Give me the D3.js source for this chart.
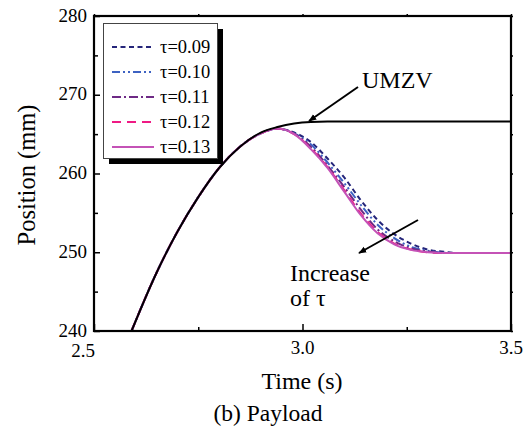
<!DOCTYPE html>
<head>
  <title>Payload position</title>
  <meta charset="utf-8">
  <script type="text/javascript" src="https://cdn.jsdelivr.net/npm/d3@7"></script>
  <style>
    body { margin: 0; background: #fff; }
    text { font-family: "Liberation Serif", "Times New Roman", serif; fill: #000; }
  </style>
</head>
<body>
  <script>
    // time points (s)
    var times = [2.59, 2.65, 2.70, 2.75, 2.80, 2.85, 2.90, 2.94, 2.98, 3.02, 3.06,
                 3.10, 3.14, 3.18, 3.22, 3.26, 3.30, 3.34, 3.38, 3.42, 3.46, 3.50];

    // position (mm) for each case
    var umzv  = [240.0, 247.4, 252.6, 257.0, 260.7, 263.4, 265.2, 265.9, 266.35, 266.55, 266.6,
                 266.6, 266.6, 266.6, 266.6, 266.6, 266.6, 266.6, 266.6, 266.6, 266.6, 266.6];
    var tau09 = [240.0, 247.4, 252.6, 257.0, 260.7, 263.4, 265.1, 265.7, 265.2, 264.0, 261.9,
                 259.5, 256.6, 254.1, 252.3, 251.1, 250.35, 250.05, 249.9, 249.9, 249.9, 249.9];
    var tau10 = [240.0, 247.4, 252.6, 257.0, 260.7, 263.4, 265.1, 265.7, 265.1, 263.7, 261.4,
                 258.8, 256.0, 253.5, 251.8, 250.7, 250.2, 249.95, 249.9, 249.9, 249.9, 249.9];
    var tau11 = [240.0, 247.4, 252.6, 257.0, 260.7, 263.4, 265.1, 265.7, 265.05, 263.4, 261.0,
                 258.3, 255.4, 252.9, 251.4, 250.5, 250.1, 249.9, 249.9, 249.9, 249.9, 249.9];
    var tau12 = [240.0, 247.4, 252.6, 257.0, 260.7, 263.4, 265.1, 265.7, 265.0, 263.2, 260.8,
                 257.9, 254.9, 252.6, 251.1, 250.35, 250.0, 249.9, 249.9, 249.9, 249.9, 249.9];
    var tau13 = [240.0, 247.4, 252.6, 257.0, 260.7, 263.4, 265.1, 265.7, 265.0, 263.1, 260.7,
                 257.7, 254.7, 252.4, 251.0, 250.3, 250.0, 249.9, 249.9, 249.9, 249.9, 249.9];

    var legendLabels = ["\u03c4=0.09", "\u03c4=0.10", "\u03c4=0.11", "\u03c4=0.12", "\u03c4=0.13"];
    var xTicks = [2.5, 3.0, 3.5];
    var xMinor = [2.75, 3.25];
    var yTicks = [240, 250, 260, 270, 280];
    var yMinor = [245, 255, 265, 275];

    var colors = ["#25257a", "#3d62c2", "#6e2a85", "#ef1a84", "#c452b6"];
    var dashes = ["5,3.5", "8,3,2,3,2,3", "9,3,2,3", "9,6", null];

    var width = 532, height = 428;
    var svg = d3.select("body").append("svg")
      .attr("width", width)
      .attr("height", height)
      .style("font-family", "'Liberation Serif', 'Times New Roman', serif");

    var x = d3.scaleLinear().domain([2.5, 3.5]).range([94, 511]);
    var y = d3.scaleLinear().domain([240, 280]).range([331, 16]);

    var defs = svg.append("defs");
    defs.append("clipPath").attr("id", "clip")
      .append("rect")
      .attr("x", x(2.5)).attr("y", y(280))
      .attr("width", x(3.5) - x(2.5)).attr("height", y(240) - y(280));

    defs.append("marker")
      .attr("id", "arrow")
      .attr("viewBox", "0 0 10 10")
      .attr("refX", 9).attr("refY", 5)
      .attr("markerWidth", 8).attr("markerHeight", 8)
      .attr("markerUnits", "userSpaceOnUse")
      .attr("orient", "auto")
      .append("path")
      .attr("d", "M0,1 L10,5 L0,9 Z")
      .attr("fill", "#000");

    // curves
    var line = d3.line()
      .x(function(d) { return x(d[0]); })
      .y(function(d) { return y(d[1]); })
      .curve(d3.curveMonotoneX);

    var series = [tau09, tau10, tau11, tau12, tau13];
    var plot = svg.append("g").attr("clip-path", "url(#clip)");

    for (var i = 0; i < series.length; i++) {
      var pts = times.map(function(t, j) { return [t, series[i][j]]; });
      plot.append("path")
        .attr("d", line(pts))
        .attr("fill", "none")
        .attr("stroke", colors[i])
        .attr("stroke-width", 2)
        .attr("stroke-dasharray", dashes[i]);
    }

    plot.append("path")
      .attr("d", line(times.map(function(t, j) { return [t, umzv[j]]; })))
      .attr("fill", "none")
      .attr("stroke", "#000")
      .attr("stroke-width", 2);

    // axes
    var axisG = svg.append("g");

    axisG.append("g")
      .attr("transform", "translate(0," + y(240) + ")")
      .call(d3.axisBottom(x).tickValues(xTicks).tickSize(-7).tickFormat(""));
    axisG.append("g")
      .attr("transform", "translate(0," + y(240) + ")")
      .call(d3.axisBottom(x).tickValues(xMinor).tickSize(-4).tickFormat(""));
    axisG.append("g")
      .attr("transform", "translate(0," + y(280) + ")")
      .call(d3.axisTop(x).tickValues(xTicks.concat(xMinor)).tickSize(2).tickFormat(""));

    axisG.append("g")
      .attr("transform", "translate(" + x(2.5) + ",0)")
      .call(d3.axisLeft(y).tickValues(yTicks).tickSize(-6).tickFormat(""));
    axisG.append("g")
      .attr("transform", "translate(" + x(2.5) + ",0)")
      .call(d3.axisLeft(y).tickValues(yMinor).tickSize(-4).tickFormat(""));
    axisG.append("g")
      .attr("transform", "translate(" + x(3.5) + ",0)")
      .call(d3.axisRight(y).tickValues(yTicks.concat(yMinor)).tickSize(2).tickFormat(""));

    axisG.selectAll(".domain").remove();
    axisG.selectAll("line").attr("stroke", "#000").attr("stroke-width", 1.5);

    svg.append("rect")
      .attr("x", x(2.5)).attr("y", y(280))
      .attr("width", x(3.5) - x(2.5)).attr("height", y(240) - y(280))
      .attr("fill", "none")
      .attr("stroke", "#000")
      .attr("stroke-width", 2.2);

    // tick labels
    svg.selectAll(".ylab")
      .data(yTicks)
      .enter().append("text")
      .attr("class", "ylab")
      .attr("x", x(2.5) - 7)
      .attr("y", function(d) { return y(d); })
      .attr("dy", "0.3em")
      .attr("text-anchor", "end")
      .style("font-size", "19px")
      .text(function(d) { return d; });

    svg.selectAll(".xlab")
      .data(xTicks)
      .enter().append("text")
      .attr("class", "xlab")
      .attr("x", function(d) { return d === 2.5 ? x(d) + 1 : x(d); })
      .attr("y", function(d) { return d === 2.5 ? 357 : 354; })
      .attr("text-anchor", function(d) { return d === 2.5 ? "end" : "middle"; })
      .style("font-size", "19px")
      .text(function(d) { return d.toFixed(1); });

    // axis titles
    svg.append("text")
      .attr("x", 302).attr("y", 389)
      .attr("text-anchor", "middle")
      .style("font-size", "24px")
      .text("Time (s)");

    svg.append("text")
      .attr("x", 268).attr("y", 421)
      .attr("text-anchor", "middle")
      .style("font-size", "23.5px")
      .text("(b) Payload");

    svg.append("text")
      .attr("transform", "translate(35,175) rotate(-90)")
      .attr("text-anchor", "middle")
      .style("font-size", "24.5px")
      .text("Position (mm)");

    // annotations
    svg.append("text")
      .attr("x", 362).attr("y", 88)
      .style("font-size", "24px")
      .text("UMZV");
    svg.append("line")
      .attr("x1", 358).attr("y1", 87)
      .attr("x2", 309).attr("y2", 121)
      .attr("stroke", "#000").attr("stroke-width", 2)
      .attr("marker-end", "url(#arrow)");

    svg.append("text")
      .attr("x", 290).attr("y", 281)
      .style("font-size", "24px")
      .text("Increase");
    svg.append("text")
      .attr("x", 290).attr("y", 306)
      .style("font-size", "24px")
      .text("of \u03c4");
    svg.append("line")
      .attr("x1", 418).attr("y1", 220)
      .attr("x2", 359).attr("y2", 253)
      .attr("stroke", "#000").attr("stroke-width", 2)
      .attr("marker-end", "url(#arrow)");

    // legend
    var legend = svg.append("g").attr("id", "legend");
    legend.append("rect")
      .attr("x", 109).attr("y", 29)
      .attr("width", 114).attr("height", 135)
      .attr("fill", "#000");
    legend.append("rect")
      .attr("x", 103.5).attr("y", 23.5)
      .attr("width", 114).attr("height", 135)
      .attr("fill", "#fff")
      .attr("stroke", "#444")
      .attr("stroke-width", 1);

    for (let k = 0; k < legendLabels.length; k++) {
      var ly = 47 + k * 25;
      legend.append("line")
        .attr("x1", 112).attr("x2", 154)
        .attr("y1", ly).attr("y2", ly)
        .attr("stroke", colors[k])
        .attr("stroke-width", 2)
        .attr("stroke-dasharray", dashes[k]);
      legend.append("text")
        .attr("x", 160)
        .attr("y", ly)
        .attr("dy", "0.35em")
        .style("font-size", "18.5px")
        .text(legendLabels[k]);
    }
  </script>
</body>
